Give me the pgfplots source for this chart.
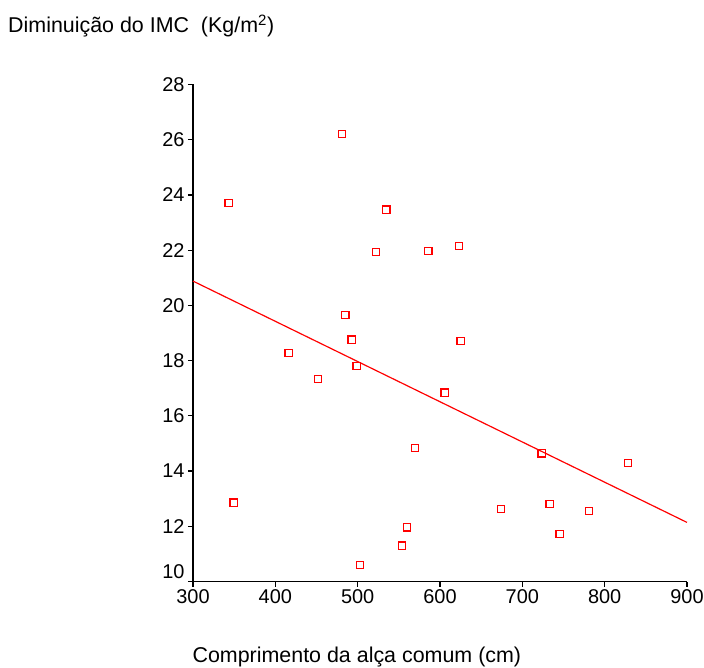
\documentclass[border=0pt]{standalone}
\usepackage{fontspec}
\setmainfont{Liberation Sans}
\usepackage{pgfplots}
\pgfplotsset{compat=1.18}

\begin{document}
\begin{tikzpicture}
\path[use as bounding box] (-193bp,-86.5bp) rectangle (511bp,581.5bp);
\begin{axis}[scale only axis,width=494bp,height=497bp,
  xmin=300,xmax=900,ymin=10,ymax=28,
  axis lines*=left,
  axis line style={line width=1.3pt,black},
  tick style={line width=1.3pt,black},
  tick align=outside,major tick length=5bp,
  xtick={300,400,...,900},
  ytick={12,14,...,28},
  extra y ticks={10},
  extra y tick style={yticklabel style={yshift=10bp}},
  /pgf/number format/assume math mode=true,
  tick label style={font=\fontsize{20}{22}\selectfont},
  clip=false]
% squares: (comprimento, diminuicao)
\addplot[only marks,mark=square,mark size=3.6bp,red,mark options={line width=1.2pt}]
coordinates {
(343.3,23.71) (481.0,26.21) (349.4,12.86) (416.2,18.28) (451.8,17.34)
(485.0,19.66) (492.7,18.76) (498.7,17.81) (522.2,21.93) (534.8,23.47)
(585.8,21.97) (623.4,22.16) (625.0,18.70) (605.6,16.84) (570.0,14.83)
(559.8,11.96) (554.2,11.30) (502.8,10.59) (723.3,14.64) (828.1,14.29)
(733.0,12.80) (780.8,12.55) (745.2,11.71) (674.4,12.62)
};
% regression line
\addplot[red,line width=1.2pt] coordinates {(300,20.88) (900,12.14)};
\end{axis}
\node[anchor=base west,inner sep=0pt,font=\fontsize{21.5}{24}\selectfont]
  at (-185bp,548.5bp) {Diminuição do IMC\ \ (Kg/m\textsuperscript{2})};
\node[anchor=base west,inner sep=0pt,font=\fontsize{21.5}{24}\selectfont]
  at (-0.6bp,-80.5bp) {Comprimento da alça comum (cm)};
\end{tikzpicture}
\end{document}
